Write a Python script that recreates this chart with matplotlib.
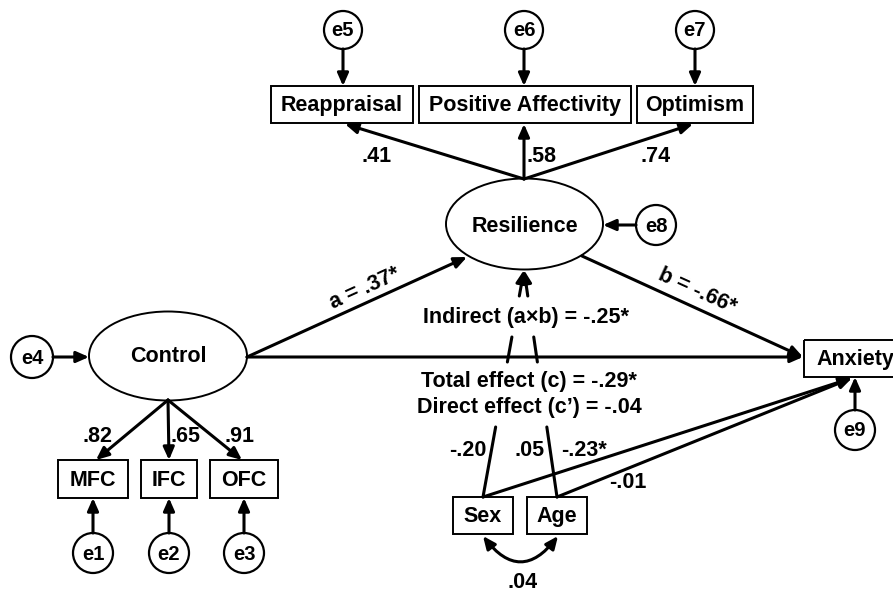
import matplotlib
matplotlib.use("Agg")
import matplotlib.pyplot as plt
from matplotlib.patches import Ellipse, Circle, Rectangle

plt.rcParams['font.family'] = ['Liberation Sans', 'DejaVu Sans']

# ---------------- data ----------------
res_indicators = ["Reappraisal", "Positive Affectivity", "Optimism"]
res_loadings = [0.41, 0.58, 0.74]
res_errors = ["e5", "e6", "e7"]
ctrl_indicators = ["MFC", "IFC", "OFC"]
ctrl_loadings = [0.82, 0.65, 0.91]
ctrl_errors = ["e1", "e2", "e3"]
path_a, sig_a = 0.37, True
path_b, sig_b = -0.66, True
indirect, sig_ind = -0.25, True
total, sig_tot = -0.29, True
direct, sig_dir = -0.04, False
covariates = ["Sex", "Age"]
cov_to_res = [-0.20, 0.05]
cov_to_anx = [-0.23, -0.01]
cov_to_anx_sig = [True, False]
sex_age_cov = 0.04


def fmt(v, sig=False):
    s = f"{v:.2f}".replace("0.", ".", 1)
    return s + ("*" if sig else "")


# ---------------- figure ----------------
fig = plt.figure(figsize=(8.93, 5.91), dpi=100)
ax = fig.add_axes([0, 0, 1, 1])
ax.set_xlim(0, 893)
ax.set_ylim(591, 0)
ax.axis('off')

FS = 15.5
LW = 2.2
TXT = dict(fontsize=FS, fontweight='bold', ha='center', va='center')
HEAD = '-|>,head_length=0.5,head_width=0.22'


def arrow(p0, p1, lw=LW, head=True, ms=15):
    ax.annotate("", xy=p1, xytext=p0,
                arrowprops=dict(arrowstyle=HEAD if head else '-', lw=lw,
                                color='black', mutation_scale=ms,
                                shrinkA=0, shrinkB=0))


def box(cx, x0, x1, y0, y1, label):
    ax.add_patch(Rectangle((x0, y0), x1 - x0, y1 - y0, fill=False,
                           lw=1.4, ec='black', clip_on=True))
    ax.text(cx, (y0 + y1) / 2 + 1, label, **TXT)


def err(cx, cy, label, r=20):
    ax.add_patch(Circle((cx, cy), r, fill=False, lw=1.6, ec='black'))
    ax.text(cx, cy + 1, label, fontsize=14.5, fontweight='bold',
            ha='center', va='center')


# Resilience latent
ax.add_patch(Ellipse((524.5, 224), 157, 91, fill=False, lw=1.4, ec='black'))
ax.text(525, 226, "Resilience", **TXT)
# Control latent
ax.add_patch(Ellipse((168, 356), 158, 89, fill=False, lw=1.4, ec='black'))
ax.text(168, 357, "Control", **TXT)

# Resilience indicators
res_boxes = [(342, 271, 413), (525, 419, 631), (695, 637, 753)]
res_err_x = [343, 524, 695]
res_tips = [(345, 124), (524, 124), (693, 124)]
res_lab = [(377, 157), (541, 157), (656, 157)]
for name, ld, en, (cx, x0, x1), ex, tip, lp in zip(
        res_indicators, res_loadings, res_errors, res_boxes, res_err_x,
        res_tips, res_lab):
    box(cx, x0, x1, 86, 123, name)
    err(ex, 30, en, r=19)
    arrow((ex, 49), (ex, 86))
    arrow((524, 179), tip)
    ax.text(lp[0], lp[1], fmt(ld), **TXT)

# e8
err(656, 225, "e8")
arrow((636, 225), (603, 225))

# Control indicators
ctrl_boxes = [(93, 58, 128), (169, 141, 197), (244, 210, 278)]
ctrl_err_x = [93, 169, 244]
ctrl_tips = [(96, 460), (169, 460), (242, 460)]
ctrl_lab = [(98, 437), (186, 437), (239, 437)]
for name, ld, en, (cx, x0, x1), ex, tip, lp in zip(
        ctrl_indicators, ctrl_loadings, ctrl_errors, ctrl_boxes, ctrl_err_x,
        ctrl_tips, ctrl_lab):
    box(cx, x0, x1, 460, 498, name)
    err(ex, 553, en)
    arrow((ex, 533), (ex, 498))
    arrow((168, 400), tip)
    ax.text(lp[0], lp[1], fmt(ld), **TXT)

# e4
err(32, 357, "e4", r=21)
arrow((53, 357), (89, 357))

# Anxiety
box(855, 804, 898, 340, 377, "Anxiety")
err(855, 430, "e9", r=20)
arrow((855, 410), (855, 377))

# structural paths
arrow((247, 357), (467, 257))
ax.text(365, 288, f"a = {fmt(path_a, sig_a)}", rotation=24.4,
        rotation_mode='anchor', **TXT)
arrow((582, 256), (803, 357))
ax.text(697, 291, f"b = {fmt(path_b, sig_b)}", rotation=-24.4,
        rotation_mode='anchor', **TXT)
arrow((247, 357), (803, 357))

# covariates
cov_boxes = [(483, 453, 513), (557, 527, 587)]
for name, (cx, x0, x1) in zip(covariates, cov_boxes):
    box(cx, x0, x1, 497, 534, name)

top = (524, 270)
for (cx, _, _) in cov_boxes:
    x_at = lambda y: cx + (top[0] - cx) * (497 - y) / (497 - top[1])
    for ya, yb in [(497, 427), (362, 337)]:
        arrow((x_at(ya), ya), (x_at(yb), yb), head=False)
    arrow((x_at(296), 296), top)
    arrow((cx, 497), (852, 378))

ax.text(526, 318, f"Indirect (a×b) = {fmt(indirect, sig_ind)}", **TXT)
ax.text(529, 382, f"Total effect (c) = {fmt(total, sig_tot)}", **TXT)
ax.text(529, 407, f"Direct effect (c’) = {fmt(direct, sig_dir)}", **TXT)

ax.text(468, 451, fmt(cov_to_res[0]), **TXT)
ax.text(530, 451, fmt(cov_to_res[1]), **TXT)
ax.text(584, 450, fmt(cov_to_anx[0], cov_to_anx_sig[0]), **TXT)
ax.text(628, 482, fmt(cov_to_anx[1], cov_to_anx_sig[1]), **TXT)

# covariance Sex <-> Age
ax.annotate("", xy=(558, 536), xytext=(483, 536),
            arrowprops=dict(arrowstyle='<|-|>,head_length=0.5,head_width=0.22',
                            lw=LW, color='black',
                            mutation_scale=15, shrinkA=0, shrinkB=0,
                            connectionstyle='arc3,rad=0.65'))
ax.text(523, 582, fmt(sex_age_cov), **TXT)

fig.savefig("out.png", dpi=100)
